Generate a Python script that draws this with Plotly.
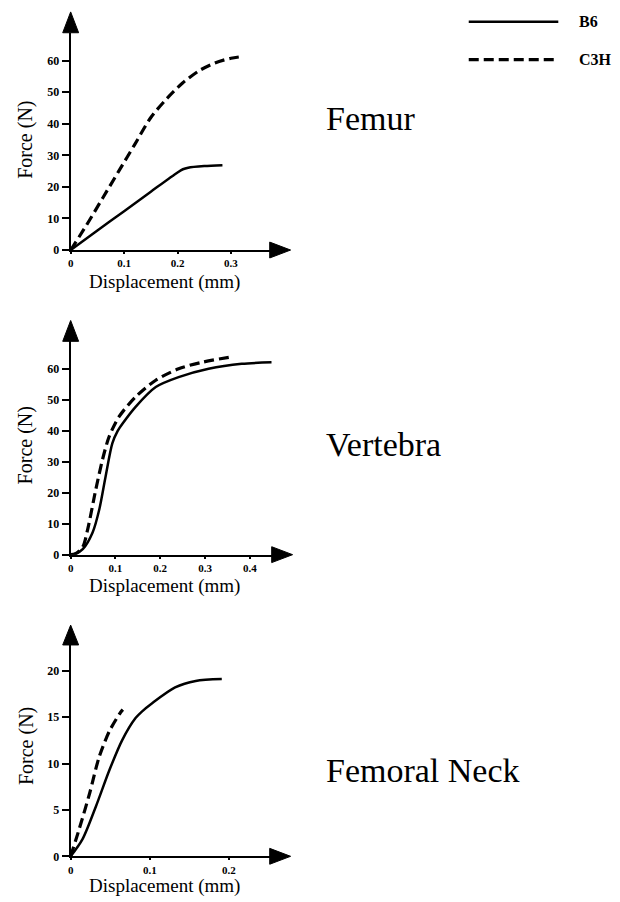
import plotly.graph_objects as go

# ---------------- data ----------------
femur_b6_x = [0, 0.05, 0.10, 0.15, 0.20, 0.21, 0.22, 0.25, 0.284]
femur_b6_y = [0, 6.2, 12.3, 18.5, 24.6, 25.6, 26.1, 26.6, 26.9]
femur_c3h_x = [0, 0.03, 0.06, 0.09, 0.12, 0.15, 0.18, 0.21, 0.24, 0.27, 0.30, 0.32]
femur_c3h_y = [0, 8.0, 16.5, 25.0, 33.5, 42.0, 48.0, 53.0, 56.8, 59.3, 60.8, 61.3]

vert_b6_x = [0, 0.011, 0.027, 0.049, 0.064, 0.078, 0.093, 0.105, 0.116, 0.145, 0.19, 0.241, 0.308, 0.382, 0.449]
vert_b6_y = [0, 0.3, 1.8, 7.2, 14.7, 25.3, 36.0, 40.0, 42.4, 47.8, 54.2, 57.4, 60.1, 61.7, 62.2]
vert_c3h_x = [0, 0.011, 0.027, 0.038, 0.056, 0.071, 0.086, 0.108, 0.145, 0.19, 0.241, 0.293, 0.353]
vert_c3h_y = [0, 0.3, 2.5, 8.2, 21.0, 30.7, 38.2, 44.6, 51.0, 56.4, 60.1, 62.2, 63.8]

neck_b6_x = [0, 0.015, 0.032, 0.049, 0.065, 0.082, 0.090, 0.103, 0.132, 0.158, 0.191]
neck_b6_y = [0, 1.85, 5.4, 9.3, 12.5, 14.9, 15.6, 16.5, 18.2, 18.9, 19.1]
neck_c3h_x = [0, 0.011, 0.024, 0.036, 0.049, 0.063, 0.066]
neck_c3h_y = [0, 3.0, 6.8, 10.7, 13.5, 15.5, 15.8]

panel_names = ["Femur", "Vertebra", "Femoral Neck"]
series_names = ["B6", "C3H"]
x_tickvals = [[0, 0.1, 0.2, 0.3], [0, 0.1, 0.2, 0.3, 0.4], [0, 0.1, 0.2]]
y_tickvals = [[0, 10, 20, 30, 40, 50, 60], [0, 10, 20, 30, 40, 50, 60], [0, 5, 10, 15, 20]]

# ---------------- layout geometry (pixels) ----------------
W, H = 620, 902
def px(x):
    return x / W
def py(y):
    return 1 - y / H

panels = [
    dict(x0=68, x1=268, yb=252, yt=33, ytip=12, sx=537, sy=3.18, label_y=119, disp_y=284, force_y=141),
    dict(x0=68, x1=270, yb=559, yt=344, ytip=323, sx=450, sy=3.117, label_y=448, disp_y=591, force_y=449),
    dict(x0=68, x1=268, yb=863, yt=650, ytip=630, sx=795, sy=9.35, label_y=777, disp_y=893, force_y=752),
]
data = [
    (femur_b6_x, femur_b6_y, femur_c3h_x, femur_c3h_y),
    (vert_b6_x, vert_b6_y, vert_c3h_x, vert_c3h_y),
    (neck_b6_x, neck_b6_y, neck_c3h_x, neck_c3h_y),
]

FONT = "Liberation Serif"
solid_style = dict(color="black", width=2.5)
dash_style = dict(color="black", width=3.2, dash="10px,5px")

fig = go.Figure()
shapes = []
annotations = []

for i, (p, d) in enumerate(zip(panels, data)):
    n = "" if i == 0 else str(i + 1)
    bx, by, cx, cy = d
    fig.add_trace(go.Scatter(x=bx, y=by, mode="lines", line=dict(**solid_style, shape="spline", smoothing=0.8),
                             name=series_names[0], xaxis="x" + n, yaxis="y" + n, showlegend=False))
    fig.add_trace(go.Scatter(x=cx, y=cy, mode="lines", line=dict(**dash_style, shape="spline", smoothing=0.8),
                             name=series_names[1], xaxis="x" + n, yaxis="y" + n, showlegend=False))
    xr = [0, (p["x1"] - p["x0"]) / p["sx"]]
    yr = [0, (p["yb"] - p["yt"]) / p["sy"]]
    xtickfont = dict(family=FONT, size=11, color="black", weight="bold")
    ytickfont = dict(family=FONT, size=12, color="black", weight="bold")
    fig.update_layout(**{
        "xaxis" + n: dict(domain=[px(p["x0"]), px(p["x1"])], range=xr,
                          anchor="y" + n, showline=True, linecolor="black", linewidth=2,
                          showgrid=False, zeroline=False, ticks="outside", ticklen=2,
                          tickwidth=1.5, tickcolor="black", tickvals=x_tickvals[i],
                          ticktext=[("%g" % v) for v in x_tickvals[i]],
                          tickfont=xtickfont, fixedrange=True),
        "yaxis" + n: dict(domain=[py(p["yb"]), py(p["yt"])], range=yr,
                          anchor="x" + n, showline=True, linecolor="black", linewidth=2,
                          showgrid=False, zeroline=False, ticks="outside", ticklen=7,
                          tickwidth=1.5, tickcolor="black", tickvals=y_tickvals[i],
                          tickfont=ytickfont, fixedrange=True),
    })
    yb = p["yb"]
    shapes.append(dict(type="path", xref="paper", yref="paper",
                       path=f"M {px(p['x1'])} {py(yb - 8)} L {px(p['x1'] + 21)} {py(yb)} L {px(p['x1'])} {py(yb + 8)} Z",
                       fillcolor="black", line=dict(color="black", width=1)))
    x0 = p["x0"]
    shapes.append(dict(type="path", xref="paper", yref="paper",
                       path=f"M {px(x0 - 8)} {py(p['yt'])} L {px(x0)} {py(p['ytip'])} L {px(x0 + 8)} {py(p['yt'])} Z",
                       fillcolor="black", line=dict(color="black", width=1)))
    annotations.append(dict(text=panel_names[i], x=px(323), y=py(p["label_y"]), xref="paper", yref="paper",
                            xanchor="left", yanchor="middle", showarrow=False,
                            font=dict(family=FONT, size=34, color="black")))
    annotations.append(dict(text="Displacement (mm)", x=px(162), y=py(p["disp_y"]), xref="paper", yref="paper",
                            xanchor="center", yanchor="middle", showarrow=False,
                            font=dict(family=FONT, size=19, color="black")))
    annotations.append(dict(text="Force (N)", x=px(23), y=py(p["force_y"]), xref="paper", yref="paper",
                            xanchor="center", yanchor="middle", showarrow=False, textangle=-90,
                            font=dict(family=FONT, size=20, color="black")))

for j, (nm, style, yy) in enumerate([(series_names[0], solid_style, 22), (series_names[1], dash_style, 60)]):
    ln = dict(color="black", width=style["width"])
    if "dash" in style:
        ln["dash"] = style["dash"]
    shapes.append(dict(type="line", xref="paper", yref="paper",
                       x0=px(468), x1=px(558), y0=py(yy), y1=py(yy), line=ln))
    annotations.append(dict(text=nm, x=px(577), y=py(yy), xref="paper", yref="paper",
                            xanchor="left", yanchor="middle", showarrow=False,
                            font=dict(family=FONT, size=16, color="black", weight="bold")))

fig.update_layout(width=W, height=H, margin=dict(l=0, r=0, t=0, b=0),
                  paper_bgcolor="white", plot_bgcolor="white",
                  showlegend=False, shapes=shapes, annotations=annotations)

fig.write_html("out.html")
